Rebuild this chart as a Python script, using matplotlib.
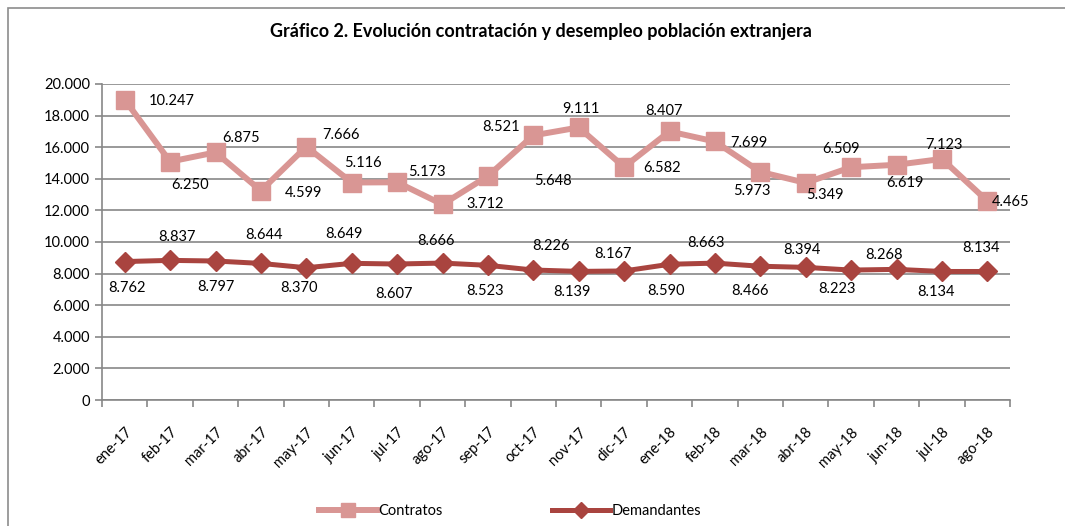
import matplotlib.pyplot as plt
import numpy as np
from matplotlib.patches import Rectangle
from matplotlib.ticker import FuncFormatter, MultipleLocator

plt.rcParams['font.family'] = ['Lato', 'DejaVu Sans']

months = ['ene-17', 'feb-17', 'mar-17', 'abr-17', 'may-17', 'jun-17', 'jul-17',
          'ago-17', 'sep-17', 'oct-17', 'nov-17', 'dic-17', 'ene-18', 'feb-18',
          'mar-18', 'abr-18', 'may-18', 'jun-18', 'jul-18', 'ago-18']
contratos = [10247, 6250, 6875, 4599, 7666, 5116, 5173, 3712, 5648, 8521,
             9111, 6582, 8407, 7699, 5973, 5349, 6509, 6619, 7123, 4465]
demandantes = [8762, 8837, 8797, 8644, 8370, 8649, 8607, 8666, 8523, 8226,
               8139, 8167, 8590, 8663, 8466, 8394, 8223, 8268, 8134, 8134]

# label offsets in pixels (dx, dy; dy positive = up)
c_off = [(47, -1), (20, -23), (26, 14), (43, -2), (35, 12), (11, 20), (30, 10),
         (43, 0), (65, -5), (-32, 8), (2, 18), (38, -1), (-6, 20), (34, -2),
         (-8, -19), (19, -12), (-10, 18), (8, -18), (2, 14), (23, -1)]
d_off = [(2, -26), (7, 23), (0, -26), (3, 28), (-7, -20), (-8, 29), (-3, -30),
         (-7, 22), (-3, -26), (18, 24), (-7, -21), (-11, 17), (-4, -27), (-9, 20),
         (-10, -25), (-4, 17), (-14, -19), (-13, 14), (-6, -21), (-6, 23)]

c_col = '#D99694'
d_col = '#A9443F'
grid_col = '#878787'

fmt = lambda v: f'{int(v):,}'.replace(',', '.')

fig = plt.figure(figsize=(10.65, 5.26), dpi=100)
fig.patches.append(Rectangle((8 / 1065, -0.01), 1.1, 1 - 8 / 526 + 0.01,
                             transform=fig.transFigure, fill=False,
                             edgecolor='#8C8C8C', lw=1.2))
ax = fig.add_axes([102 / 1065, 1 - 400 / 526, 908 / 1065, 316 / 526])

x = np.arange(len(months))
stacked = np.array(demandantes) + np.array(contratos)  # stacked line chart

ax.plot(x, stacked, color=c_col, lw=4.3, marker='s', ms=13,
        label='Contratos', zorder=3)
ax.plot(x, demandantes, color=d_col, lw=3.6, marker='D', ms=10,
        label='Demandantes', zorder=3)

for i in range(len(x)):
    ax.annotate(fmt(contratos[i]), (x[i], stacked[i]), xytext=c_off[i],
                textcoords='offset pixels', ha='center', va='center',
                fontsize=10.5, color='black', zorder=4)
    ax.annotate(fmt(demandantes[i]), (x[i], demandantes[i]), xytext=d_off[i],
                textcoords='offset pixels', ha='center', va='center',
                fontsize=10.5, color='black', zorder=4)

ax.set_xlim(-0.5, len(x) - 0.5)
ax.set_ylim(0, 20000)
ax.yaxis.set_major_locator(MultipleLocator(2000))
ax.yaxis.set_major_formatter(FuncFormatter(lambda v, p: fmt(v)))
ax.grid(axis='y', color=grid_col, lw=1.2)
ax.set_axisbelow(True)

ax.set_xticks(x)
ax.set_xticklabels(months, rotation=45, ha='right', rotation_mode='anchor',
                   fontsize=10.5)
ax.set_xticks(np.arange(-0.5, len(x)), minor=True)
ax.tick_params(axis='x', which='major', length=0, pad=18)
ax.tick_params(axis='x', which='minor', length=5, color=grid_col, width=1.2)
ax.tick_params(axis='y', length=5, color=grid_col, width=1.2, labelsize=10.5)

for s in ['top', 'right']:
    ax.spines[s].set_visible(False)
for s in ['left', 'bottom']:
    ax.spines[s].set_color(grid_col)
    ax.spines[s].set_linewidth(1.2)

fig.text(541 / 1065, 1 - 32 / 526, 'Gráfico 2. Evolución contratación y desempleo población extranjera',
         ha='center', va='center', fontsize=13, fontweight='bold')

fig.legend(loc='center', bbox_to_anchor=(510 / 1065, 1 - 511 / 526), ncol=2,
           frameon=False, fontsize=10.5, handlelength=4, columnspacing=7.5,
           handletextpad=0.1, markerscale=0.8)

fig.savefig('out.png', dpi=100)
